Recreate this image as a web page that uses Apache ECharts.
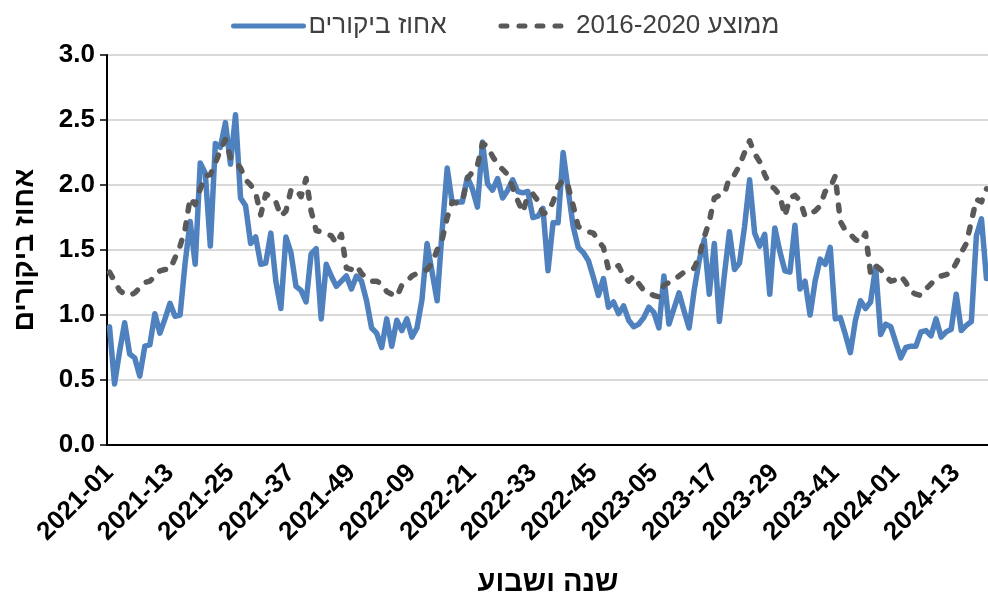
<!DOCTYPE html>
<html>
<head>
<meta charset="utf-8">
<script src="https://cdn.jsdelivr.net/npm/echarts@6/dist/echarts.min.js"></script>
<style>
  html, body { margin: 0; padding: 0; background: #fff; }
  #chart { width: 988px; height: 595px; }
</style>
</head>
<body>
<div id="chart"></div>
<script>
// weeks shown per year (2024 is partial)
const years = [2021, 2022, 2023, 2024];
const weeksInYear = [52, 52, 52, 19];

// weekly visit share (%)
const visits = [
  0.91, 0.47, 0.72, 0.94, 0.70, 0.67, 0.53, 0.76, 0.77, 1.01,
  0.86, 0.97, 1.09, 0.99, 1.00, 1.40, 1.72, 1.39, 2.17, 2.09,
  1.53, 2.32, 2.29, 2.48, 2.16, 2.54, 1.90, 1.84, 1.55, 1.60,
  1.39, 1.40, 1.63, 1.26, 1.05, 1.60, 1.48, 1.22, 1.19, 1.10,
  1.47, 1.51, 0.97, 1.39, 1.30, 1.22, 1.26, 1.30, 1.20, 1.30,
  1.26, 1.11, 0.90, 0.86, 0.75, 0.97, 0.76, 0.96, 0.88, 0.97,
  0.83, 0.90, 1.12, 1.55, 1.33, 1.11, 1.65, 2.13, 1.86, 1.87,
  1.87, 2.06, 1.97, 1.83, 2.33, 2.01, 1.96, 2.05, 1.90, 1.96,
  2.04, 1.95, 1.94, 1.95, 1.75, 1.76, 1.82, 1.34, 1.71, 1.71,
  2.25, 1.96, 1.68, 1.52, 1.48, 1.42, 1.29, 1.15, 1.28, 1.06,
  1.10, 1.01, 1.07, 0.96, 0.91, 0.93, 0.98, 1.06, 1.02, 0.90,
  1.30, 0.93, 1.05, 1.17, 1.03, 0.90, 1.19, 1.42, 1.58, 1.16,
  1.55, 0.95, 1.31, 1.64, 1.35, 1.40, 1.68, 2.04, 1.63, 1.53,
  1.62, 1.16, 1.67, 1.49, 1.34, 1.33, 1.69, 1.20, 1.26, 1.00,
  1.26, 1.43, 1.39, 1.52, 0.97, 0.98, 0.85, 0.71, 0.96, 1.11,
  1.05, 1.10, 1.37, 0.85, 0.93, 0.91, 0.79, 0.67, 0.75, 0.76,
  0.76, 0.87, 0.88, 0.84, 0.97, 0.83, 0.87, 0.89, 1.16, 0.88,
  0.92, 0.95, 1.61, 1.74, 1.28
];

// 2016-2020 average for the same week
const average = [
  1.33, 1.26, 1.19, 1.16, 1.15, 1.17, 1.21, 1.25, 1.26, 1.30,
  1.34, 1.35, 1.35, 1.44, 1.53, 1.66, 1.90, 1.85, 1.97, 2.07,
  2.08, 2.17, 2.27, 2.35, 2.21, 2.18, 2.13, 2.04, 2.00, 1.94,
  1.77, 1.93, 1.91, 1.87, 1.76, 1.80, 1.96, 1.97, 1.91, 2.05,
  1.80, 1.65, 1.64, 1.62, 1.61, 1.55, 1.62, 1.36, 1.35, 1.38,
  1.32, 1.28, 1.26, 1.26, 1.24, 1.18, 1.16, 1.14, 1.23, 1.26,
  1.30, 1.32, 1.33, 1.35, 1.40, 1.50, 1.58, 1.75, 1.87, 1.86,
  1.87, 2.05, 2.10, 2.15, 2.32, 2.30, 2.22, 2.16, 2.12, 2.08,
  1.98, 1.88, 1.79, 1.92, 1.93, 1.88, 1.78, 1.79, 1.87, 1.99,
  2.04, 1.99, 1.84, 1.68, 1.66, 1.64, 1.63, 1.57, 1.52, 1.35,
  1.36, 1.38, 1.30, 1.26, 1.30, 1.24, 1.19, 1.17, 1.15, 1.14,
  1.23, 1.25, 1.27, 1.30, 1.33, 1.35, 1.36, 1.45, 1.60, 1.72,
  1.90, 1.92, 1.93, 2.06, 2.08, 2.15, 2.25, 2.34, 2.24, 2.18,
  2.08, 2.00, 1.97, 1.92, 1.76, 1.90, 1.92, 1.88, 1.76, 1.78,
  1.80, 1.84, 1.95, 1.98, 2.07, 1.72, 1.65, 1.62, 1.58, 1.56,
  1.63, 1.32, 1.38, 1.35, 1.30, 1.26, 1.27, 1.30, 1.25, 1.18,
  1.16, 1.15, 1.20, 1.24, 1.28, 1.30, 1.31, 1.33, 1.40, 1.48,
  1.55, 1.72, 1.89, 1.87, 1.97
];

const seriesNames = ["אחוז ביקורים", "\u202Bממוצע 2016-2020\u202C"];
const xTitle = "שנה ושבוע";
const yTitle = "אחוז ביקורים";

const categories = [];
years.forEach((y, k) => {
  for (let w = 1; w <= weeksInYear[k]; w++) {
    categories.push(y + "-" + String(w).padStart(2, "0"));
  }
});

const FONT = "'Liberation Sans', Arial, 'DejaVu Sans', sans-serif";

const chart = echarts.init(document.getElementById("chart"), null, { renderer: "canvas" });

chart.setOption({
  animation: false,
  textStyle: { fontFamily: FONT },
  legend: {
    top: 8,
    left: 226,
    itemWidth: 70,
    itemHeight: 14,
    itemGap: 52,
    data: seriesNames,
    itemStyle: { opacity: 0 },
    lineStyle: { width: 5, cap: "round" },
    textStyle: { fontSize: 26, color: "#404040", fontFamily: FONT },
  },
  grid: { left: 107, top: 55, width: 882, height: 390, outerBoundsMode: "none", containLabel: false },
  xAxis: {
    type: "category",
    data: categories,
    boundaryGap: true,
    axisLine: { lineStyle: { color: "#000", width: 2 } },
    axisTick: { interval: 11, length: 7, lineStyle: { color: "#000", width: 1.5 } },
    axisLabel: {
      interval: 11,
      rotate: 45,
      margin: 24,
      fontSize: 26,
      fontWeight: "bold",
      color: "#000",
      hideOverlap: false,
    },
    splitLine: { show: false },
    name: xTitle,
    nameLocation: "middle",
    nameGap: 123,
    nameTextStyle: { fontSize: 29, fontWeight: "bold", color: "#000" },
  },
  yAxis: {
    type: "value",
    min: 0,
    max: 3,
    interval: 0.5,
    axisLine: { show: true, lineStyle: { color: "#000", width: 2 } },
    axisTick: { show: true, length: 7, lineStyle: { color: "#000", width: 1.5 } },
    axisLabel: {
      margin: 12,
      fontSize: 26,
      fontWeight: "bold",
      color: "#000",
      formatter: (v) => v.toFixed(1),
    },
    splitLine: { lineStyle: { color: "#d9d9d9", width: 2 } },
    name: yTitle,
    nameLocation: "middle",
    nameGap: 68,
    nameTextStyle: { fontSize: 28, fontWeight: "bold", color: "#000" },
  },
  series: [
    {
      name: seriesNames[0],
      type: "line",
      data: visits,
      symbol: "none",
      lineStyle: { color: "#4e81bd", width: 5.5, cap: "round", join: "round" },
      itemStyle: { color: "#4e81bd" },
    },
    {
      name: seriesNames[1],
      type: "line",
      data: average,
      symbol: "none",
      lineStyle: { color: "#595959", width: 5.5, type: [6, 12], cap: "round", join: "round" },
      itemStyle: { color: "#595959" },
    },
  ],
});
</script>
</body>
</html>
